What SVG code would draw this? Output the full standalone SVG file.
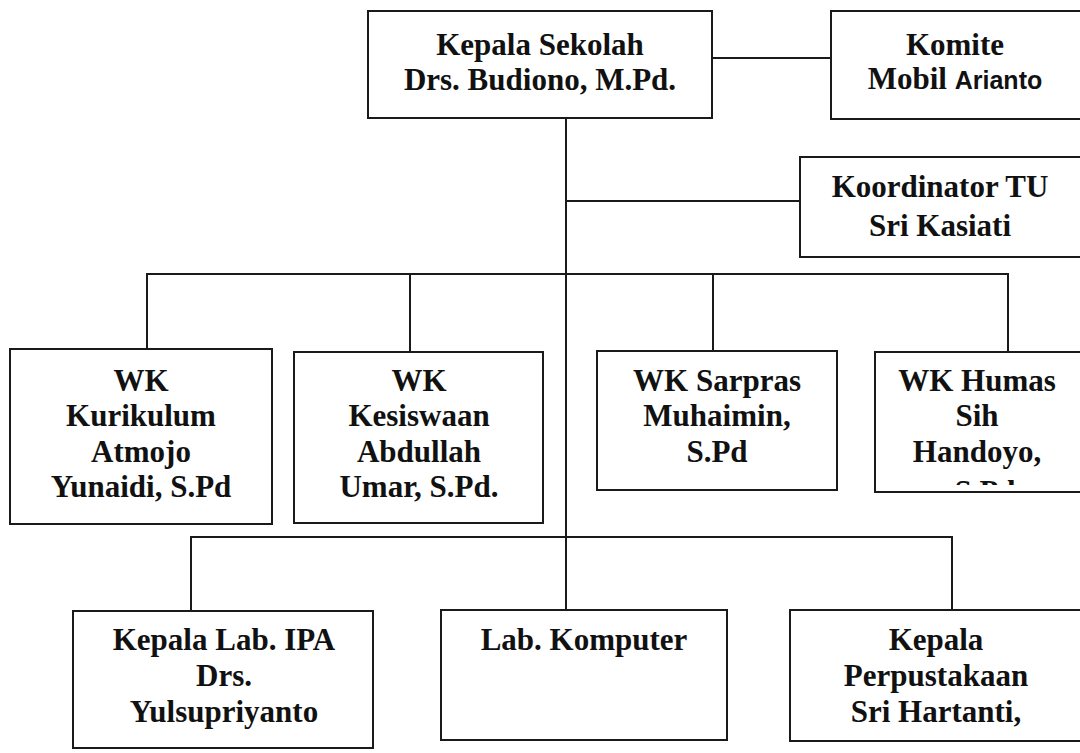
<svg xmlns="http://www.w3.org/2000/svg" width="1080" height="753" viewBox="0 0 1080 753">
<style>
.box{fill:#fff;stroke:#1a1a1a;stroke-width:2}
.ln{fill:none;stroke:#1a1a1a;stroke-width:2}
text{font-family:"Liberation Serif","Times New Roman",serif;font-weight:bold;font-size:31px;fill:#111;text-anchor:middle}
.sans{font-family:"Liberation Sans",Arial,sans-serif;font-size:25px}
</style>
<defs>
<clipPath id="clipHumas"><rect x="876" y="353" width="204" height="132"/></clipPath>
</defs>
<rect width="1080" height="753" fill="#fff"/>
<g id="connectors">
<line class="ln" x1="712" y1="58" x2="831" y2="58"/>
<line class="ln" x1="566" y1="118" x2="566" y2="610"/>
<line class="ln" x1="566" y1="201" x2="800" y2="201"/>
<polyline class="ln" points="147,349 147,274 1008,274 1008,352"/>
<line class="ln" x1="410" y1="274" x2="410" y2="352"/>
<line class="ln" x1="713" y1="274" x2="713" y2="351"/>
<polyline class="ln" points="191,611 191,537 952,537 952,610"/>
</g>
<g id="kepala-sekolah">
<rect class="box" x="368" y="11" width="344" height="107"/>
<text x="540" y="55">Kepala Sekolah</text>
<text x="540" y="90">Drs. Budiono, M.Pd.</text>
</g>
<g id="komite">
<rect class="box" x="831" y="11" width="260" height="108"/>
<text x="955" y="55">Komite</text>
<text x="955" y="89">Mobil <tspan class="sans">Arianto</tspan></text>
</g>
<g id="koordinator-tu">
<rect class="box" x="800" y="157" width="290" height="100"/>
<text x="940" y="197">Koordinator TU</text>
<text x="940" y="236">Sri Kasiati</text>
</g>
<g id="wk-kurikulum">
<rect class="box" x="10" y="349" width="262" height="175"/>
<text x="141" y="391">WK</text>
<text x="141" y="426">Kurikulum</text>
<text x="141" y="462">Atmojo</text>
<text x="141" y="497">Yunaidi, S.Pd</text>
</g>
<g id="wk-kesiswaan">
<rect class="box" x="294" y="352" width="249" height="171"/>
<text x="419" y="391">WK</text>
<text x="419" y="426">Kesiswaan</text>
<text x="419" y="462">Abdullah</text>
<text x="419" y="497">Umar, S.Pd.</text>
</g>
<g id="wk-sarpras">
<rect class="box" x="597" y="351" width="240" height="139"/>
<text x="717" y="391">WK Sarpras</text>
<text x="717" y="426">Muhaimin,</text>
<text x="717" y="462">S.Pd</text>
</g>
<g id="wk-humas">
<rect class="box" x="875" y="352" width="215" height="140"/>
<text x="977" y="391">WK Humas</text>
<text x="977" y="426">Sih</text>
<text x="977" y="462">Handoyo,</text>
<text x="985" y="502" clip-path="url(#clipHumas)">S.Pd</text>
</g>
<g id="kepala-lab-ipa">
<rect class="box" x="73" y="611" width="300" height="137"/>
<text x="224" y="650">Kepala Lab. IPA</text>
<text x="224" y="686">Drs.</text>
<text x="224" y="722">Yulsupriyanto</text>
</g>
<g id="lab-komputer">
<rect class="box" x="441" y="610" width="286" height="130"/>
<text x="584" y="650">Lab. Komputer</text>
</g>
<g id="kepala-perpustakaan">
<rect class="box" x="790" y="610" width="300" height="131"/>
<text x="936" y="650">Kepala</text>
<text x="936" y="686">Perpustakaan</text>
<text x="936" y="722">Sri Hartanti,</text>
</g>
</svg>
